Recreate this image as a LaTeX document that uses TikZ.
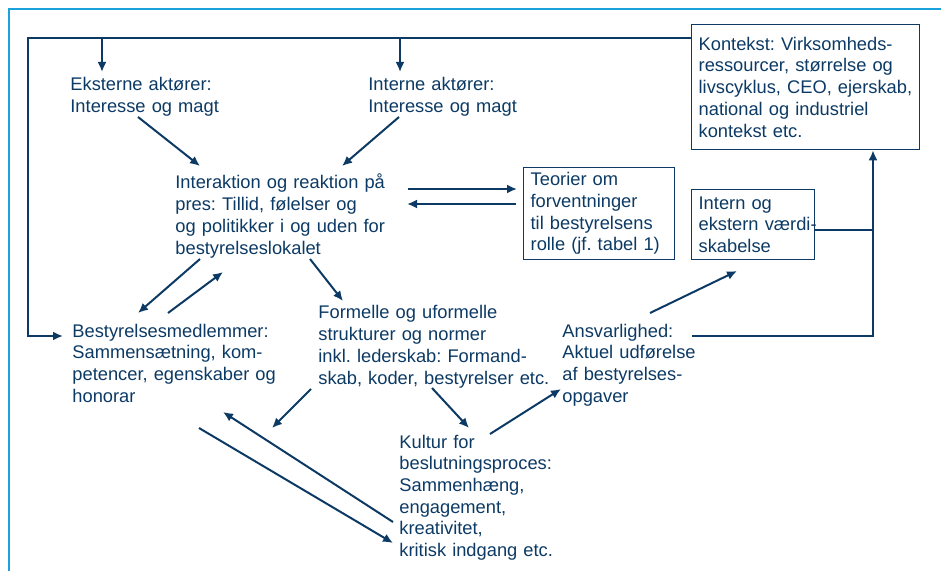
\documentclass[tikz,border=0pt]{standalone}
\usepackage{fontspec}
\setmainfont{Liberation Sans}
\usetikzlibrary{arrows.meta}
\definecolor{navy}{HTML}{0C3A64}
\definecolor{frameblue}{HTML}{1BA1DB}
\frenchspacing

\begin{document}
\begin{tikzpicture}[x=0.5pt,y=-0.5pt,
        txt/.style={anchor=base west,inner sep=0pt,text width=130pt,align=left,
            text=navy,font=\fontsize{9.15pt}{10.85pt}\selectfont},
        tbox/.style={draw=navy,line width=0.65pt,anchor=north west,inner ysep=0pt,
            inner xsep=3.5pt,align=left,text=navy,font=\fontsize{9.15pt}{10.85pt}\selectfont},
        conn/.style={draw=navy,line width=1pt},
        arr/.style={conn,-{Latex[length=5pt,width=4.5pt]}}]
        \useasboundingbox (0,0) rectangle (941,571);
        \draw[frameblue,line width=1pt] (9,571) -- (9,9) -- (941,9);

        \node[txt] (ekst) at (70,91) {Eksterne aktører:\\Interesse og magt};
        \node[txt] (inte) at (368,91) {Interne aktører:\\Interesse og magt};
        \node[txt] (interak) at (175,189) {Interaktion og reaktion på\\pres: Tillid, følelser og\\og politikker i og uden for\\bestyrelseslokalet};
        \node[tbox,text width=68.5pt,minimum height=46pt] (teori) at (523,167) {Teorier om\\forventninger\\til bestyrelsens\\rolle (jf. tabel 1)};
        \node[tbox,text width=107pt,minimum height=62.5pt] (kontekst) at (691,24) {Kontekst: Virksomheds-\\ressourcer, størrelse og\\livscyklus, CEO, ejerskab,\\national og industriel\\kontekst etc.};
        \node[tbox,text width=54.5pt,minimum height=35pt] (vaerdi) at (691,189) {Intern og\\\mbox{ekstern værdi-}\\skabelse};
        \node[txt] (bestyr) at (72,337) {Bestyrelsesmedlemmer:\\Sammensætning, kom-\\petencer, egenskaber og\\honorar};
        \node[txt] (formel) at (318,319) {Formelle og uformelle\\strukturer og normer\\inkl. lederskab: Formand-\\skab, koder, bestyrelser etc.};
        \node[txt] (kultur) at (399,448) {Kultur for\\beslutningsproces:\\Sammenhæng,\\engagement,\\kreativitet,\\kritisk indgang etc.};
        \node[txt] (ansvar) at (562,337) {Ansvarlighed:\\Aktuel udførelse\\af bestyrelses-\\opgaver};

        \coordinate (corner) at (28,38);
        \draw[arr] ([shift={(0,14)}]kontekst.north west) -- (corner) |- ([shift={(-9,-1)}]bestyr.base west);
        \foreach \n in {ekst,inte} {
            \coordinate (\n-in) at ([shift={(32,-19)}]\n.base west);
            \draw[arr] (\n-in |- corner) -- (\n-in);
        }

        \draw[arr] ([shift={(68,26)}]ekst.base west) -- ([shift={(25,-23)}]interak.base west);
        \draw[arr] ([shift={(31,26)}]inte.base west) -- ([shift={(167,-23)}]interak.base west);
        \draw[arr] ([shift={(233,0)}]interak.base west) -- ([shift={(-6,22)}]teori.north west);
        \draw[arr] ([shift={(-7,37)}]teori.north west) -- ([shift={(232,15)}]interak.base west);
        \draw[arr] ([shift={(25,70)}]interak.base west) -- ([shift={(66,-24)}]bestyr.base west);
        \draw[arr] ([shift={(96,-24)}]bestyr.base west) -- ([shift={(48,83)}]interak.base west);
        \draw[arr] ([shift={(135,70)}]interak.base west) -- ([shift={(25,-18)}]formel.base west);
        \draw[arr] ([shift={(-7,70)}]formel.base west) -- ([shift={(200,91)}]bestyr.base west);
        \draw[arr] ([shift={(114,69)}]formel.base west) -- ([shift={(70,-20)}]kultur.base west);
        \draw[arr] ([shift={(91,-14)}]kultur.base west) -- ([shift={(-1,52)}]ansvar.base west);
        \draw[arr] ([shift={(88,-24)}]ansvar.base west) -- ([shift={(46,82)}]vaerdi.north west);
        \draw[arr] ([shift={(-6,74)}]kultur.base west) -- ([shift={(151,75)}]bestyr.base west);
        \draw[arr] ([shift={(127,91)}]bestyr.base west) -- ([shift={(-6,95)}]kultur.base west);

        \coordinate (up) at ([shift={(182,0)}]kontekst.south west);
        \draw[arr] ([shift={(130,-1)}]ansvar.base west) -| (up);
        \coordinate (vj) at ([shift={(0,41)}]vaerdi.north east);
        \draw[conn] (vj) -- (vj -| up);
\end{tikzpicture}
\end{document}
